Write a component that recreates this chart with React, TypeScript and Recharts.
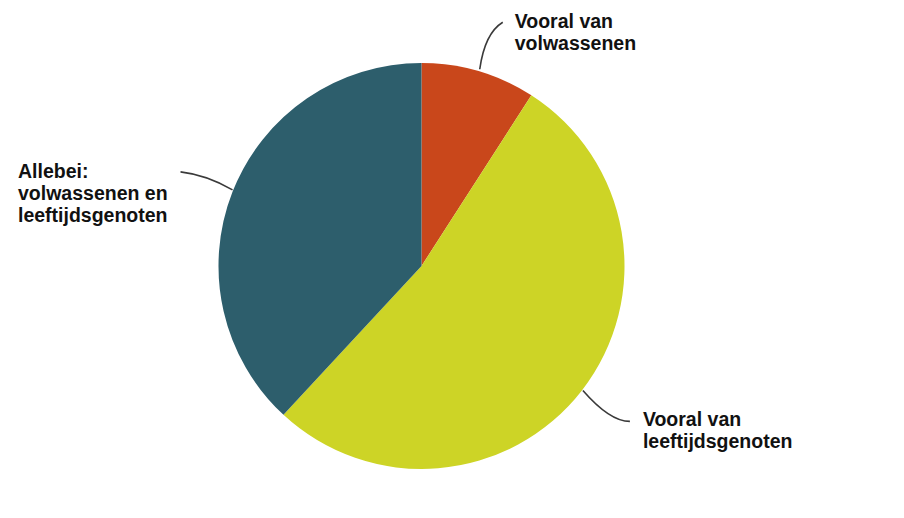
import React from "react";
import { PieChart, Pie, Cell } from "recharts";

const categories = ["Vooral van volwassenen", "Vooral van leeftijdsgenoten", "Allebei: volwassenen en leeftijdsgenoten"];
const values = [9.1, 52.8, 38.1];
const labelLines = [
  ["Vooral van", "volwassenen"],
  ["Vooral van", "leeftijdsgenoten"],
  ["Allebei:", "volwassenen en", "leeftijdsgenoten"],
];
const colors = ["#C9471B", "#CDD426", "#2D5E6C"];

const data = categories.map((name, i) => ({ name, value: values[i] }));

// layout offsets relative to the arc midpoint of each slice
const layout = [
  { path: [1, -2, 6, -38, 24, -49], tx: 36, ty: -43, anchor: "start" },
  { path: [1, 0, 28, 31, 48, 31], tx: 61, ty: 36, anchor: "start" },
  { path: [0, -2, -26, -17, -52, -20], tx: -214.5, ty: -14, anchor: "start" },
];

const RAD = Math.PI / 180;

const renderLabel = (props: any) => {
  const { cx, cy, midAngle, outerRadius, index } = props;
  const px = cx + outerRadius * Math.cos(-midAngle * RAD);
  const py = cy + outerRadius * Math.sin(-midAngle * RAD);
  const l = layout[index];
  const [a, b, c, d, e, f] = l.path;
  const lines = labelLines[index];
  return (
    <g key={`lbl-${index}`}>
      <path
        d={`M ${px + a} ${py + b} Q ${px + c} ${py + d} ${px + e} ${py + f}`}
        stroke="#3a3a3a"
        strokeWidth={1.6}
        fill="none"
      />
      <text
        x={px + l.tx}
        y={py + l.ty}
        textAnchor={l.anchor as any}
        fill="#111111"
        style={{ fontFamily: "'Liberation Sans', Arial, sans-serif", fontWeight: 700, fontSize: 19.5 }}
      >
        {lines.map((t, i) => (
          <tspan key={i} x={px + l.tx} dy={i === 0 ? 0 : 22}>
            {t}
          </tspan>
        ))}
      </text>
    </g>
  );
};

export default function App() {
  return (
    <div style={{ position: "absolute", left: 0, top: 0, width: 904, height: 518, background: "#ffffff" }}>
      <PieChart width={904} height={518} margin={{ top: 0, right: 0, bottom: 0, left: 0 }}>
        <Pie
          data={data}
          dataKey="value"
          nameKey="name"
          cx={421.5}
          cy={266}
          outerRadius={203}
          startAngle={90}
          endAngle={-270}
          stroke="none"
          label={renderLabel}
          labelLine={false}
          isAnimationActive={false}
        >
          {data.map((d, i) => (
            <Cell key={d.name} fill={colors[i]} />
          ))}
        </Pie>
      </PieChart>
    </div>
  );
}
